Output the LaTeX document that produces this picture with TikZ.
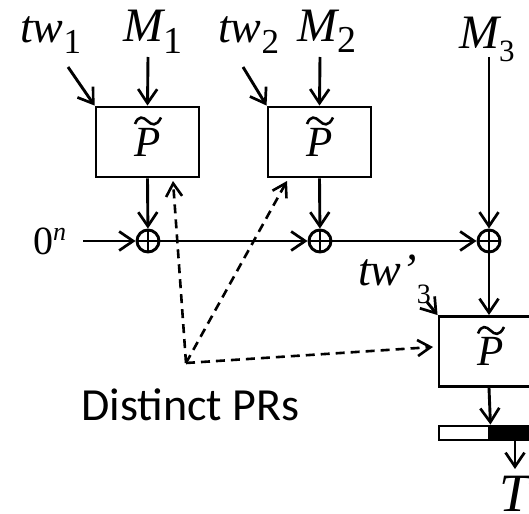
\documentclass[tikz,border=0pt]{standalone}
\usepackage{fontspec}
\setmainfont{Liberation Serif}
\newfontfamily\tnr{Liberation Serif}
\newfontfamily\calib{Carlito}
\usetikzlibrary{arrows.meta}
\newcommand\mysubsc[3]{\raisebox{-#3}{\fontsize{#1}{#1}\selectfont\upshape #2}}
\begin{document}
\begin{tikzpicture}[x=1pt,y=-1pt,
  lw/.style={line width=2.9pt},
  arr/.style={lw,-{Straight Barb[length=14pt,width=19pt,line width=2.7pt]}},
  darr/.style={line width=2.6pt,dash pattern=on 9pt off 6pt,-{Straight Barb[length=13pt,width=16pt,line width=2.6pt]}},
  prbox/.style={draw,lw,minimum width=103pt,minimum height=70pt,inner sep=0pt,
     font=\tnr\fontsize{43}{43}\selectfont\itshape},
  tld/.style={line width=2.6pt},
  xorn/.style={circle,draw,lw,minimum size=22pt,inner sep=0pt,
     path picture={\draw[line width=2.7pt] (path picture bounding box.north) -- (path picture bounding box.south)
       (path picture bounding box.west) -- (path picture bounding box.east);}},
  lbl/.style={anchor=base west,inner sep=0pt,font=\tnr\fontsize{46}{46}\selectfont\itshape}
]
\useasboundingbox (0,0) rectangle (529,513);
\clip (0,0) rectangle (529,513);
% boxes
\node[prbox] (box1) at (147.5,142) {\raisebox{-5pt}{P}};
\node[prbox] (box2) at (319.5,142) {\raisebox{-5pt}{P}};
\node[prbox] (box3) at (490.5,351.5) {\raisebox{-5pt}{P}};
\foreach \b in {box1,box2,box3}{
  \begin{scope}[shift={(\b.center)}]
    \draw[tld] (-12.5,-18) .. controls (-9,-27) and (-4,-25) .. (0,-21)
      .. controls (4,-17) and (9,-15) .. (13.5,-24.5);
  \end{scope}
}
% xors
\node[xorn] (x1) at (148,241) {};
\node[xorn] (x2) at (320,241) {};
\node[xorn] (x3) at (489,241) {};
% labels
\node[lbl] (tw1) at (20,43) {tw\mysubsc{35}{1}{11pt}};
\node[lbl] (m1) at (123,42) {\fontsize{48}{48}\selectfont M\mysubsc{38}{1}{12pt}};
\node[lbl] (tw2) at (218,43) {tw\mysubsc{35}{2}{11pt}};
\node[lbl] (m2) at (297,42) {\fontsize{48}{48}\selectfont M\mysubsc{38}{2}{11pt}};
\node[lbl] (m3) at (459,49) {\fontsize{48}{48}\selectfont M\mysubsc{31}{3}{13pt}};
\node[lbl] (tw3) at (358,285) {tw’\mysubsc{28}{3}{18pt}};
\node[anchor=base west,inner sep=0pt,font=\tnr\fontsize{40}{40}\selectfont] (zero) at (33,254) {0\raisebox{14pt}{\fontsize{26}{26}\selectfont\itshape n}};
\node[lbl] (tt) at (499,511) {\fontsize{54}{54}\selectfont T};
\node[anchor=base west,inner sep=0pt,font=\calib\fontsize{46}{46}\selectfont] (dpr) at (81,420) {Distinct PRs};
% coordinates
\coordinate (m1s) at (148,57);
\coordinate (m2s) at (320,57);
\coordinate (m3s) at (489,57);
\coordinate (t1s) at (68,67);
\coordinate (t2s) at (243,67);
\coordinate (t3s) at (427,302);
\coordinate (zs) at (83,241);
\coordinate (org) at (186,363);
% bar
\node[draw,lw,fill=white,minimum width=50pt,minimum height=14pt,inner sep=0pt] (barw) at (464,433) {};
\node[draw,lw,fill=black,minimum width=60pt,minimum height=14pt,inner sep=0pt,anchor=west] (barb) at (barw.east) {};
\coordinate (ts) at (515,440);
\coordinate (te) at (515,469);
% arrows
\draw[arr] (m1s) -- (box1.north);
\draw[arr] (m2s) -- (box2.north);
\draw[arr] (t1s) -- (box1.north west);
\draw[arr] (t2s) -- (box2.north west);
\draw[arr] (m3s) -- (x3);
\draw[arr] (box1.south) -- (x1);
\draw[arr] (box2.south) -- (x2);
\draw[arr] (zs) -- (x1);
\draw[arr] (x1) -- (x2);
\draw[arr] (x2) -- (x3);
\draw[arr] (x3) -- (x3 |- box3.north);
\draw[arr] (t3s) -- (box3.north west);
\draw[arr] (box3.south -| x3) -- (barw.north east);
\draw[arr] (ts) -- (te);
% dashed
\draw[darr] (org) -- (173,181);
\draw[darr] (org) -- (287,181);
\draw[darr] (org) -- (433,347);
\end{tikzpicture}
\end{document}
